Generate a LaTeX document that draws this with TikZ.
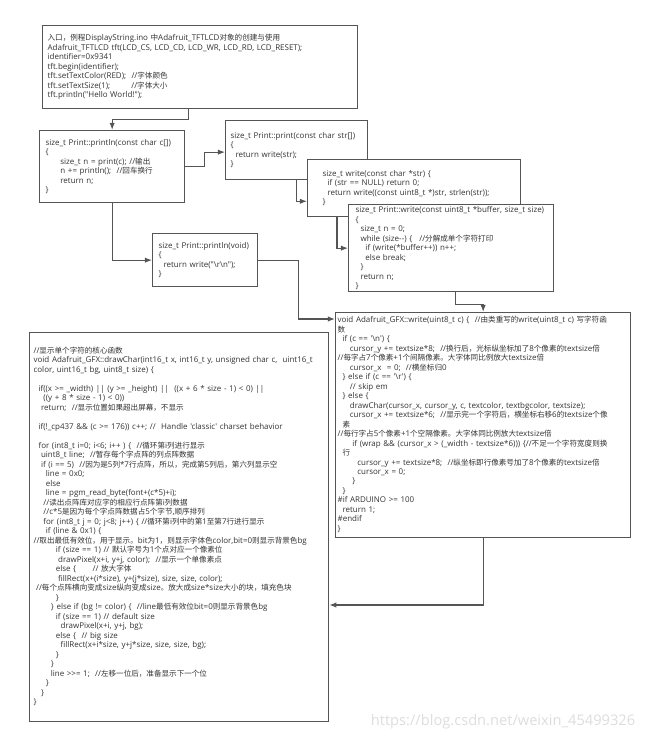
\documentclass[tikz,border=0pt]{standalone}
\usepackage{fontspec}
\usetikzlibrary{positioning,calc,arrows.meta}

\newfontfamily\latinfont{Open Sans}
\newfontfamily\cjkfont{Noto Sans CJK SC}[Scale=0.95]

% Chinese characters switch to the CJK font by themselves
\XeTeXinterchartokenstate=1
\newXeTeXintercharclass\cjkclass
\newcount\cjkcode
\newcommand{\setcjkrange}[2]{%
  \cjkcode=#1
  \loop
    \XeTeXcharclass\cjkcode=\cjkclass
    \ifnum\cjkcode<#2 \advance\cjkcode by 1 \repeat}
\setcjkrange{"3000}{"303F}
\setcjkrange{"4E00}{"9FFF}
\setcjkrange{"FF00}{"FFEF}
\XeTeXinterchartoks 0 \cjkclass = {\begingroup\cjkfont}
\XeTeXinterchartoks 4095 \cjkclass = {\begingroup\cjkfont}
\XeTeXinterchartoks \cjkclass 0 = {\endgroup}
\XeTeXinterchartoks \cjkclass 4095 = {\endgroup}

\definecolor{boxgray}{HTML}{555555}
\definecolor{txtgray}{HTML}{333333}
\definecolor{wmgray}{HTML}{DDDDDD}

\newcommand{\codefont}{\latinfont\fontsize{6.8}{8.1}\selectfont}
\newcommand{\ind}[1]{\hspace*{#1\dimexpr 2.1pt\relax}}

\begin{document}
\begin{tikzpicture}[x=0.03cm, y=-0.03cm,
    codebox/.style={draw=boxgray, fill=white, line width=1.1pt, anchor=north west,
      align=left, text=txtgray, inner ysep=1pt, font=\codefont},
    conn/.style={draw=boxgray, line width=1pt, -{Latex[length=6pt,width=4.5pt]}}]
            \useasboundingbox (0,0) rectangle (649,741);

            % Kaesten
            \node[codebox, minimum width=9.45cm, minimum height=2.49cm, text width=9.15cm, inner xsep=0.15cm] (entry) at (42,25)
              {入口，例程DisplayString.ino 中Adafruit\_TFTLCD对象的创建与使用\\
               Adafruit\_TFTLCD tft(LCD\_CS, LCD\_CD, LCD\_WR, LCD\_RD, LCD\_RESET);\\
               identifier=0x9341\\
               tft.begin(identifier);\\
               tft.setTextColor(RED);\ \ //字体颜色\\
               tft.setTextSize(1);\hspace*{18pt}//字体大小\\
               tft.println("Hello World!");};
            \node[codebox, minimum width=4.35cm, minimum height=2.16cm, text width=3.99cm, inner xsep=0.18cm] (printlnc) at (39,130)
              {size\_t Print::println(const char c[])\\
               \{\\
               \ind{6}size\_t n = print(c); //输出\\
               \ind{6}n += println();\ \ //回车换行\\
               \ind{6}return n;\\
               \}};
            \node[codebox, minimum width=4.26cm, minimum height=1.77cm, text width=3.96cm, inner xsep=0.15cm] (printstr) at (225,120)
              {size\_t Print::print(const char str[])\\
               \{\\
               \ind{2}return write(str);\\
               \}};
            \node[codebox, minimum width=6.39cm, minimum height=1.71cm, text width=5.49cm, inner xsep=0.45cm] (writestr) at (307,159)
              {size\_t write(const char *str) \{\\
               \ind{2}if (str == NULL) return 0;\\
               \ind{2}return write((const uint8\_t *)str, strlen(str));\\
               \}};
            \node[codebox, minimum width=6.15cm, minimum height=2.61cm, text width=5.73cm, inner xsep=0.21cm] (writebuf) at (348,204)
              {size\_t Print::write(const uint8\_t *buffer, size\_t size)\\
               \{\\
               \ind{2}size\_t n = 0;\\
               \ind{2}while (size--) \{\hspace*{6pt}//分解成单个字符打印\\
               \ind{4}if (write(*buffer++)) n++;\\
               \ind{4}else break;\\
               \ind{2}\}\\
               \ind{2}return n;\\
               \}};
            \node[codebox, minimum width=8.85cm, minimum height=6.75cm, text width=8.73cm, inner xsep=0.06cm] (gfxwrite) at (335,312)
              {\begin{tabular}{@{}l@{}}
               void Adafruit\_GFX::write(uint8\_t c) \{\ \ //由类重写的write(uint8\_t c) 写字符函\\
               数\\
               \ind{2}if (c == '\textbackslash n') \{\\
               \ind{5}cursor\_y += textsize*8;\ \ //换行后，光标纵坐标加了8个像素的textsize倍\\
               //每字占7个像素+1个间隔像素。大字体同比例放大textsize倍\\
               \ind{5}cursor\_x\ \ = 0;\ \ //横坐标归0\\
               \ind{2}\} else if (c == '\textbackslash r') \{\\
               \ind{5}// skip em\\
               \ind{2}\} else \{\\
               \ind{5}drawChar(cursor\_x, cursor\_y, c, textcolor, textbgcolor, textsize);\\
               \ind{5}cursor\_x += textsize*6;\ \ //显示完一个字符后，横坐标右移6的textsize个像\\
               \ind{2}素\\
               //每行字占5个像素+1个空隔像素。大字体同比例放大textsize倍\\
               \ind{6}if (wrap \&\& (cursor\_x > (\_width - textsize*6))) \{//不足一个字符宽度则换\\
               \ind{2}行\\
               \ind{8}cursor\_y += textsize*8;\ \ //纵坐标即行像素号加了8个像素的textsize倍\\
               \ind{8}cursor\_x = 0;\\
               \ind{6}\}\\
               \ind{2}\}\\
               \#if ARDUINO >= 100\\
               \ind{2}return 1;\\
               \#endif\\
               \}
               \end{tabular}};
            \node[codebox, minimum width=3.15cm, minimum height=1.59cm, text width=2.79cm, inner xsep=0.18cm] (printlnv) at (152,233)
              {size\_t Print::println(void)\\
               \{\\
               \ind{2}return write("\textbackslash r\textbackslash n");\\
               \}};
            \node[codebox, minimum width=8.97cm, minimum height=11.67cm, text width=8.73cm, inner xsep=0.12cm] (drawchar) at (29,332)
              {\begin{tabular}{@{}l@{}}
               //显示单个字符的核心函数\\
               void Adafruit\_GFX::drawChar(int16\_t x, int16\_t y, unsigned char c,\ \ uint16\_t\\
               color, uint16\_t bg, uint8\_t size) \{\\[8.1pt]
               \ind{2}if((x >= \_width) || (y >= \_height) ||\ \ ((x + 6 * size - 1) < 0) ||\\
               \ind{4}((y + 8 * size - 1) < 0))\\
               \ind{3}return;\ \ //显示位置如果超出屏幕，不显示\\[8.1pt]
               \ind{2}if(!\_cp437 \&\& (c >= 176)) c++; //\ \ Handle 'classic' charset behavior\\[8.1pt]
               \ind{2}for (int8\_t i=0; i<6; i++ ) \{\ \ //循环第i列进行显示\\
               \ind{3}uint8\_t line;\ \ //暂存每个字点阵的列点阵数据\\
               \ind{3}if (i == 5)\ \ //因为是5列*7行点阵，所以，完成第5列后，第六列显示空\\
               \ind{5}line = 0x0;\\
               \ind{5}else\\
               \ind{5}line = pgm\_read\_byte(font+(c*5)+i);\\
               \ind{4}//读出点阵库对应字的相应行点阵第i列数据\\
               \ind{4}//c*5是因为每个字点阵数据占5个字节,顺序排列\\
               \ind{4}for (int8\_t j = 0; j<8; j++) \{ //循环第i列中的第1至第7行进行显示\\
               \ind{5}if (line \& 0x1) \{\\
               //取出最低有效位，用于显示。bit为1，则显示字体色color,bit=0则显示背景色bg\\
               \ind{9}if (size == 1) // 默认字号为1个点对应一个像素位\\
               \ind{10}drawPixel(x+i, y+j, color);\ \ //显示一个单像素点\\
               \ind{9}else \{\hspace*{14pt}// 放大字体\\
               \ind{10}fillRect(x+(i*size), y+(j*size), size, size, color);\\
               \ind{1}//每个点阵横向变成size纵向变成size。放大成size*size大小的块，填充色块\\
               \ind{9}\}\\
               \ind{7}\} else if (bg != color) \{\ \ //line最低有效位bit=0则显示背景色bg\\
               \ind{9}if (size == 1) // default size\\
               \ind{11}drawPixel(x+i, y+j, bg);\\
               \ind{9}else \{\ \ // big size\\
               \ind{11}fillRect(x+i*size, y+j*size, size, size, bg);\\
               \ind{9}\}\\
               \ind{7}\}\\
               \ind{7}line >>= 1;\ \ //左移一位后，准备显示下一个位\\
               \ind{5}\}\\
               \ind{3}\}\\
               \}
               \end{tabular}};
            \node[text=wmgray, font=\latinfont\fontsize{12.5}{14}\selectfont] (wm) at (503,722) {https://blog.csdn.net/weixin\_45499326};

            % Pfeile
            \draw[conn] ($(entry.south)+(-12,0)$) -- ++(0,10) -| (printlnc.north);
            \draw[conn] (printlnc.east) -- ++(19,0) |- ($(printstr.west)+(0,2)$);
            \draw[conn] (printstr.south) |- ($(writestr.south west)+(0,-16)$);
            \draw[conn] ($(writestr.south west)+(30,0)$) |- (writebuf.west);
            \draw[conn] ($(writebuf.south)+(4,0)$) -- ++(0,12) -| (gfxwrite.north);
            \draw[conn] (printlnc.south) |- (printlnv.west);
            \draw[conn] (printlnv.east) -- ++(40,0) |- ($(gfxwrite.north west)+(0,7)$);
            \draw[conn] (gfxwrite.south) |- ($(drawchar.north east)+(0,273)$);
          \end{tikzpicture}
\end{document}
